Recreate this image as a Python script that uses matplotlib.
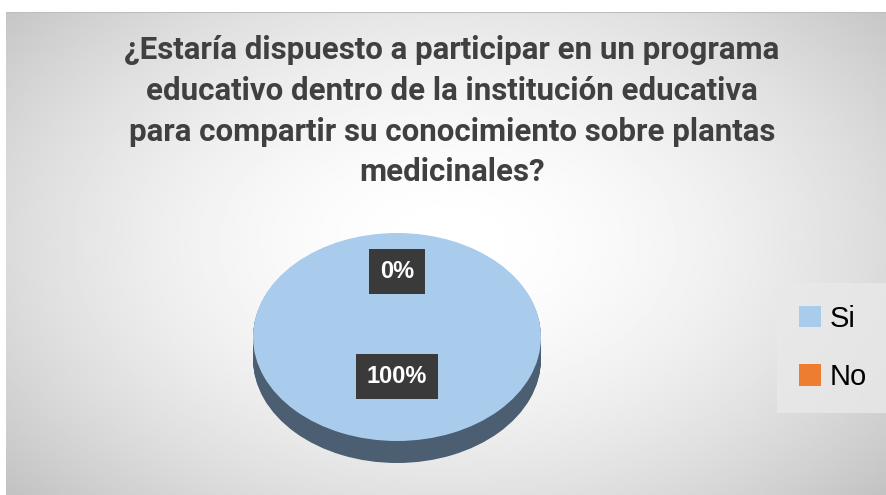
import numpy as np
import matplotlib.pyplot as plt
from matplotlib.patches import Patch

# data
labels = ['Si', 'No']
values = [100, 0]
colors = ['#a9cbec', '#ed7d31']
title = ('¿Estaría dispuesto a participar en un programa\n'
         'educativo dentro de la institución educativa\n'
         'para compartir su conocimiento sobre plantas\n'
         'medicinales?')

W, H = 887, 495
fig = plt.figure(figsize=(W / 100, H / 100), dpi=100)
fig.patch.set_facecolor('white')

# chart area background: radial gray gradient
bg = fig.add_axes([6 / W, 0, 1 - 6 / W, 1 - 12 / H])
yy, xx = np.mgrid[0:200, 0:360]
cx, cy = 180, 95
r = np.sqrt(((xx - cx) / 230.0) ** 2 + ((yy - cy) / 150.0) ** 2)
shade = 1.0 - 0.22 * np.clip(r, 0, 1.2) ** 1.8
bg.imshow(shade, cmap='gray', vmin=0, vmax=1, aspect='auto', extent=[0, 1, 0, 1])
bg.set_xlim(0, 1)
bg.set_ylim(0, 1)
bg.axis('off')
bg.plot([0, 1], [1, 1], color='#bdbdbd', lw=1.5)

# pie axes (squashed to look like 3d pie)
rx, ry, depth = 144, 104, 22
cxp, cyp = 397, 337
ax = fig.add_axes([(cxp - rx * 1.25) / W, (H - cyp - ry * 1.25) / H,
                   rx * 2.5 / W, ry * 2.5 / H])
d = depth / ry
steps = 24
for i in range(steps, 0, -1):
    ax.pie(values, startangle=90, counterclock=False, center=(0, -d * i / steps),
           colors=['#4b5e72', '#8a4a20'], wedgeprops=dict(linewidth=0))
wedges, texts, autotexts = ax.pie(
    values, startangle=90, counterclock=False, colors=colors,
    autopct='%1.0f%%', pctdistance=0.38,
    wedgeprops=dict(linewidth=0),
    textprops=dict(color='white', fontsize=17, fontweight='bold',
                   family='Liberation Sans'))
autotexts[1].set_position((0, 0.63))
for t in autotexts:
    t.set_bbox(dict(boxstyle='square,pad=0.45', facecolor='#3a3a3a', edgecolor='none'))
ax.set_aspect('auto')
ax.set_xlim(-1.25, 1.25)
ax.set_ylim(-1.25, 1.25)

# title
fig.text(452 / W, 1 - 35 / H, title, ha='center', va='top', fontsize=22.5,
         fontweight='bold', color='#404040', family='Roboto', linespacing=1.45)

# legend
handles = [Patch(facecolor=c, edgecolor='none') for c in colors]
leg = fig.legend(handles, labels, loc='center', bbox_to_anchor=(833 / W, 1 - 348 / H),
                 frameon=True, prop=dict(family='Liberation Sans', size=21),
                 handlelength=0.75, handleheight=0.75,
                 labelspacing=1.05, handletextpad=0.3, borderpad=0.45)
leg.get_frame().set_facecolor('#e9e9e9')
leg.get_frame().set_edgecolor('none')
leg.get_frame().set_boxstyle('square')

fig.savefig('out.png', dpi=100)
